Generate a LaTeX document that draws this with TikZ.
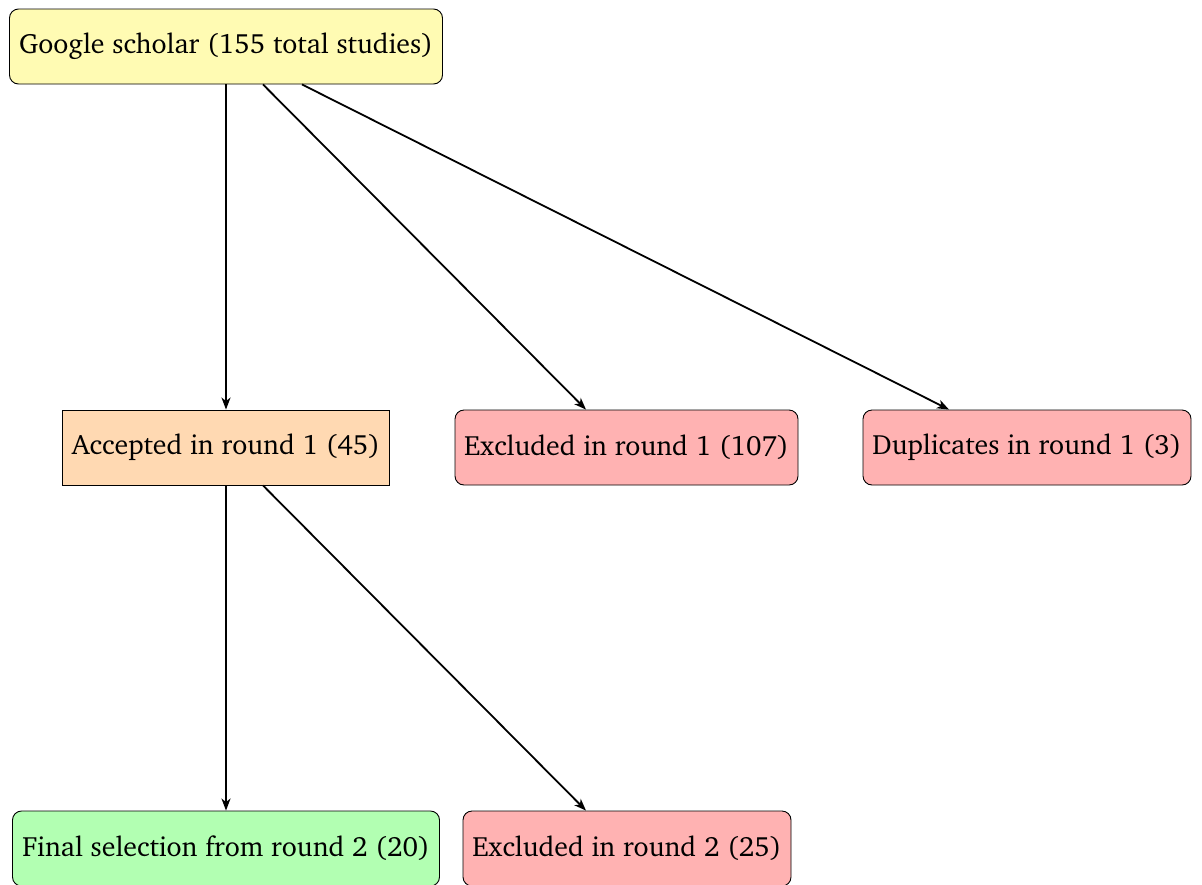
\documentclass[tikz,border=0pt]{standalone}
\usepackage[T1]{fontenc}
\usepackage{charter}
\usetikzlibrary{arrows.meta}
\begin{document}
\begin{tikzpicture}[x=1pt,y=-1pt,
  box/.style={draw=black,line width=0.9pt,minimum height=75pt,inner sep=0pt,font=\fontsize{27.9}{33}\selectfont},
  rbox/.style={box,rounded corners=9pt},
  arr/.style={line width=1.8pt,-{Stealth[length=12pt,width=9pt,inset=3.5pt]}}]
\useasboundingbox (0,0) rectangle (1202,884);
\node[rbox,fill=yellow!30,minimum width=433pt] (top) at (226,46.5) {Google scholar (155 total studies)};
\node[box,fill=orange!30,minimum width=327pt] (acc) at (226,447.5) {Accepted in round 1 (45)};
\node[rbox,fill=red!30,minimum width=343pt] (ex1) at (626.5,447.5) {Excluded in round 1 (107)};
\node[rbox,fill=red!30,minimum width=328pt] (dup) at (1027,447.5) {Duplicates in round 1 (3)};
\node[rbox,fill=green!30,minimum width=427pt] (fin) at (226,848.5) {Final selection from round 2 (20)};
\node[rbox,fill=red!30,minimum width=328pt] (ex2) at (627,848.5) {Excluded in round 2 (25)};
\draw[arr] (top.south) -- (acc.north);
\draw[arr] ([xshift=37pt]top.south) -- ([xshift=-40.5pt]ex1.north);
\draw[arr] ([xshift=76pt]top.south) -- ([xshift=-78pt]dup.north);
\draw[arr] (acc.south) -- (fin.north);
\draw[arr] ([xshift=37pt]acc.south) -- ([xshift=-41pt]ex2.north);
\end{tikzpicture}
\end{document}
